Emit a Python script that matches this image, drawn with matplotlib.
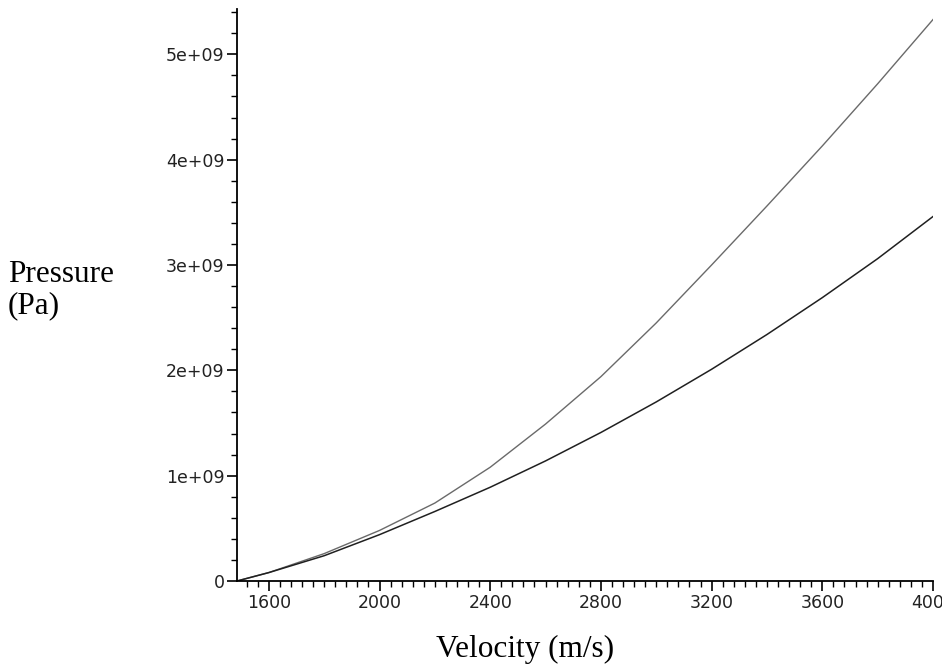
import numpy as np
from matplotlib import pyplot as plt
from matplotlib.ticker import MultipleLocator, FuncFormatter

# velocity (m/s) and the two pressure curves (Pa)
velocity = [1485, 1600, 1800, 2000, 2200, 2400, 2600, 2800, 3000, 3200, 3400, 3600, 3800, 4000]
pressure_upper = [0.0, 0.08e9, 0.26e9, 0.48e9, 0.74e9, 1.08e9, 1.49e9, 1.94e9, 2.45e9, 3.0e9,
                  3.56e9, 4.13e9, 4.72e9, 5.33e9]
pressure_lower = [0.0, 0.08e9, 0.24e9, 0.44e9, 0.66e9, 0.89e9, 1.14e9, 1.41e9, 1.70e9, 2.01e9,
                  2.34e9, 2.69e9, 3.06e9, 3.46e9]


def y_label(value, pos):
    if value == 0:
        return "0"
    return "%.0e" % value


fig = plt.figure(figsize=(9.42, 6.7), dpi=100)
ax = fig.add_axes([237 / 942, 89 / 670, 696 / 942, 572 / 670])

ax.plot(velocity, pressure_upper, color="#6a6a6a", lw=1.0)
ax.plot(velocity, pressure_lower, color="#202020", lw=1.1)

ax.set_xlim(velocity[0], 4000)
ax.set_ylim(0, 5.43e9)

for side in ["top", "right"]:
    ax.spines[side].set_visible(False)
for side in ["left", "bottom"]:
    ax.spines[side].set_linewidth(1.3)

ax.xaxis.set_major_locator(MultipleLocator(400))
ax.xaxis.set_minor_locator(MultipleLocator(40))
ax.yaxis.set_major_locator(MultipleLocator(1e9))
ax.yaxis.set_minor_locator(MultipleLocator(0.2e9))
ax.yaxis.set_major_formatter(FuncFormatter(y_label))

ax.tick_params(which="major", direction="out", length=7, width=1.2, pad=2,
               labelsize=12.5, labelcolor="#222222")
ax.tick_params(which="minor", direction="out", length=4, width=1.0)

fig.text(0.0085, 0.567, "Pressure\n(Pa)", family="Liberation Serif", fontsize=22.5,
         ha="left", va="center", linespacing=1.1)
fig.text(0.557, 0.03, "Velocity (m/s)", family="Liberation Serif", fontsize=22.5,
         ha="center", va="center")

fig.savefig("out.png", dpi=100)
